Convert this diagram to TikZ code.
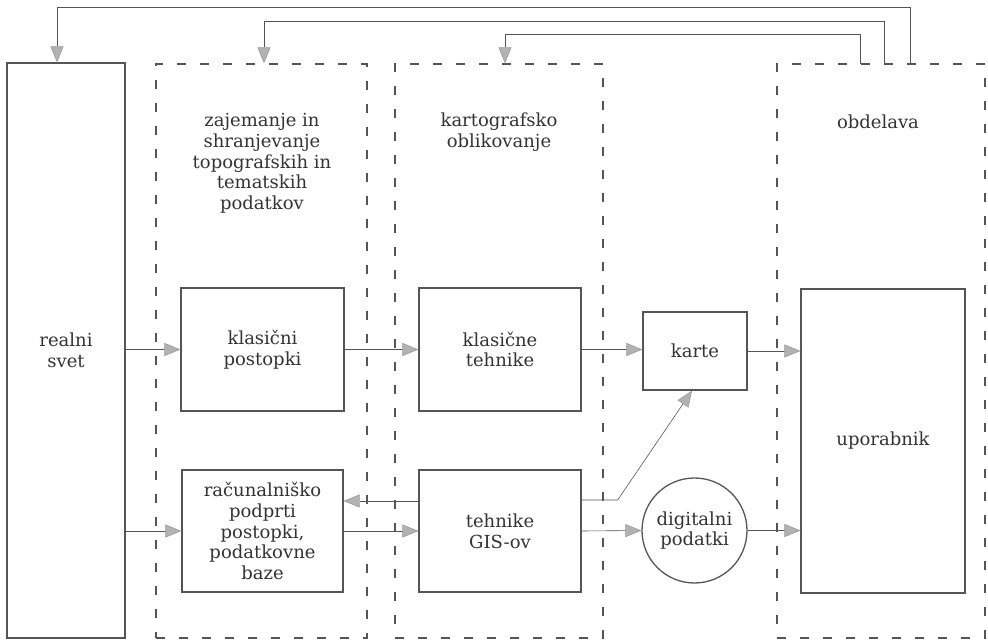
\documentclass[tikz,border=0pt]{standalone}
\usepackage{fontspec}
\setmainfont{DejaVu Serif}
\usetikzlibrary{arrows.meta}
\definecolor{ink}{HTML}{555555}
\definecolor{txt}{HTML}{333333}
\begin{document}
\begin{tikzpicture}[x=1pt,y=-1pt,
  lbl/.style={text=txt, align=center, font=\fontsize{18}{20.8}\selectfont},
  box/.style={lbl, draw=ink, line width=1.3pt, rectangle, inner sep=0pt},
  roundbox/.style={lbl, draw=ink, line width=1.3pt, circle, inner sep=0pt},
  group/.style={draw=ink, line width=1.4pt, dash pattern=on 9pt off 14pt, rectangle, inner sep=0pt},
  title/.style={lbl, anchor=north, inner sep=0pt},
  conn/.style={draw=ink, line width=0.6pt, -{Triangle[length=16pt,width=13pt,fill=gray!60,color=gray!80]}},
  fb/.style={conn}
]
\useasboundingbox (0,0) rectangle (988,642);

% group frames
\node[group, minimum width=211, minimum height=574] (b1) at (261.5,351) {};
\node[group, minimum width=208, minimum height=574] (b2) at (499,351) {};
\node[group, minimum width=208, minimum height=574] (b3) at (881,351) {};

% titles
\node[title] (t1) at (262,113) {zajemanje in\\shranjevanje\\topografskih in\\tematskih\\podatkov};
\node[title] (t2) at (499,113) {kartografsko\\oblikovanje};
\node[title] (t3) at (878,115) {obdelava};

% boxes
\node[box, minimum width=118, minimum height=575] (realni) at (66,350.5) {realni\\svet};
\node[box, minimum width=163, minimum height=123] (kp) at (262.5,349.5) {klasični\\postopki};
\node[box, minimum width=162, minimum height=123] (kt) at (500,349.5) {klasične\\tehnike};
\node[box, minimum width=104, minimum height=78] (karte) at (695,351) {karte};
\node[box, minimum width=164, minimum height=304] (upor) at (883,441) {uporabnik};
\node[box, minimum width=161, minimum height=122] (rac) at (262.5,531) {računalniško\\podprti\\postopki,\\podatkovne\\baze};
\node[box, minimum width=162, minimum height=122] (gis) at (500,531) {tehnike\\GIS-ov};
\node[roundbox, minimum size=105] (dig) at (694.5,530.5) {digitalni\\podatki};

% connectors
\draw[conn] (realni.east |- kp.west) -- (kp.west);
\draw[conn] (realni.east |- rac.west) -- (rac.west);
\draw[conn] (kp.east) -- (kt.west);
\draw[conn] (kt.east) -- (kt.east -| karte.west);
\draw[conn] (karte.east) -- (karte.east -| upor.west);
\draw[conn] (rac.east) -- (gis.west);
\draw[conn] ([yshift=30pt]gis.west) -- ([yshift=30pt]rac.east);
\draw[conn] (gis.east) -- (dig.west);
\draw[conn] (dig.east) -- (dig.east -| upor.west);
\draw[conn] ([yshift=31pt]gis.east) -- ++(36,0) -- ([xshift=-3pt]karte.south);

% feedback lines
\coordinate (y1) at (0,7);
\coordinate (y2) at (0,21);
\coordinate (y3) at (0,34);
\coordinate (s1) at (910,64);
\coordinate (s2) at (884,64);
\coordinate (s3) at (860,64);
\draw[fb] (s1) -- (s1 |- y1) -| ([xshift=-9pt]realni.north);
\draw[fb] (s2) -- (s2 |- y2) -| ([xshift=2.5pt]b1.north);
\draw[fb] (s3) -- (s3 |- y3) -| ([xshift=6pt]b2.north);
\end{tikzpicture}
\end{document}
